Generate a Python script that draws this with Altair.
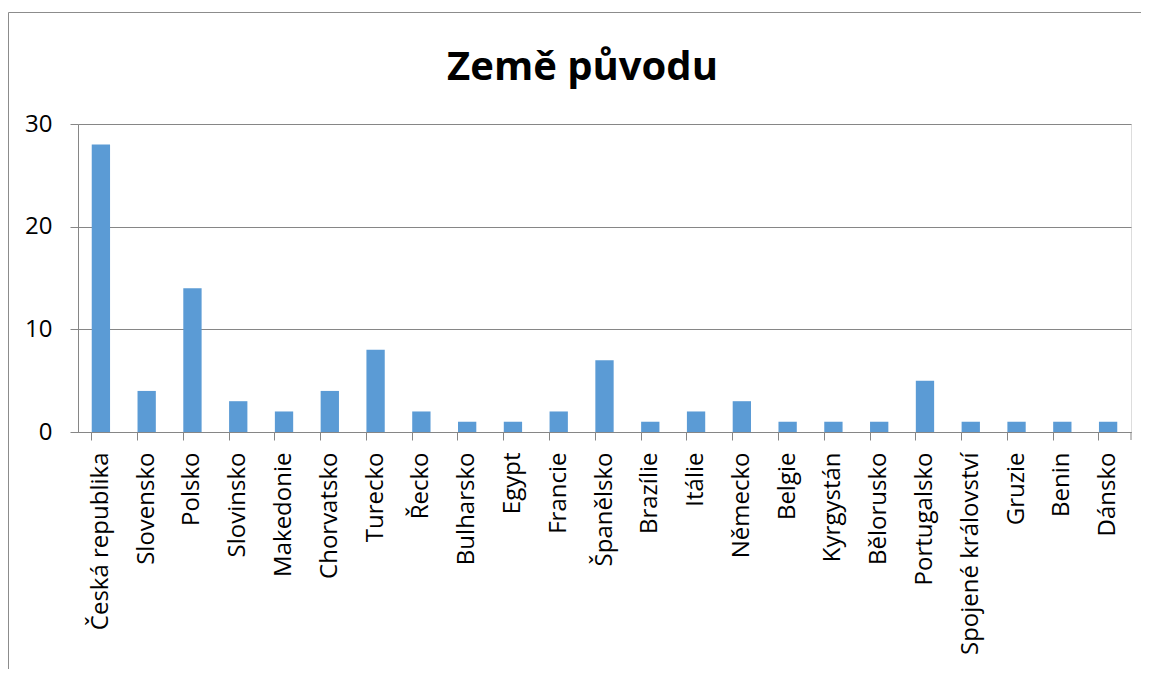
import altair as alt
import pandas as pd

countries = ["Česká republika", "Slovensko", "Polsko", "Slovinsko", "Makedonie",
             "Chorvatsko", "Turecko", "Řecko", "Bulharsko", "Egypt", "Francie",
             "Španělsko", "Brazílie", "Itálie", "Německo", "Belgie", "Kyrgystán",
             "Bělorusko", "Portugalsko", "Spojené království", "Gruzie", "Benin", "Dánsko"]
counts = [28, 4, 14, 3, 2, 4, 8, 2, 1, 1, 2, 7, 1, 2, 3, 1, 1, 1, 5, 1, 1, 1, 1]
y_ticks = [0, 10, 20, 30]

W, H = 1053, 308
FONT = "Open Sans"
GREY = "#868686"

df = pd.DataFrame({"country": countries, "count": counts})

bars = alt.Chart(df).mark_bar(color="#5B9BD5").encode(
    x=alt.X("country:N", sort=countries, title=None,
            scale=alt.Scale(paddingInner=0.6, paddingOuter=0.3),
            axis=alt.Axis(labelAngle=-90, labelAlign="right", labelBaseline="middle",
                          bandPosition=0, tickSize=8, labelPadding=12, labelLimit=0,
                          labelFontSize=24, labelColor="black", labelFont=FONT,
                          domainColor=GREY, tickColor=GREY, grid=False)),
    y=alt.Y("count:Q", title=None,
            scale=alt.Scale(domain=[0, 30], nice=False),
            axis=alt.Axis(values=y_ticks, tickSize=8, labelPadding=18,
                          labelFontSize=24, labelColor="black", labelFont=FONT,
                          domainColor=GREY, tickColor=GREY, gridColor=GREY,
                          grid=True)),
)

end_tick = alt.Chart(alt.Data(values=[{}])).mark_rule(color=GREY).encode(
    x=alt.value(W), y=alt.value(H), y2=alt.value(H + 8)
)

border_top = alt.Chart(alt.Data(values=[{}])).mark_rule(color="#8c8c8c").encode(
    x=alt.value(-69.5), x2=alt.value(W + 100), y=alt.value(-111.5)
)
border_left = alt.Chart(alt.Data(values=[{}])).mark_rule(color="#8c8c8c").encode(
    x=alt.value(-69.5), y=alt.value(-111.5), y2=alt.value(H + 400)
)

chart = alt.layer(border_top, border_left, bars, end_tick).properties(
    width=W, height=H,
    title=alt.TitleParams("Země původu", fontSize=40, fontWeight="bold", font=FONT,
                          color="black", anchor="middle", offset=0, dx=-22, dy=76),
    autosize=alt.AutoSizeParams(type="none"),
    padding={"left": 70, "top": 116, "right": 10, "bottom": 237},
).configure_view(stroke=None).configure(background="white")

chart.save("out.html", embed_options={"renderer": "svg", "actions": False})
